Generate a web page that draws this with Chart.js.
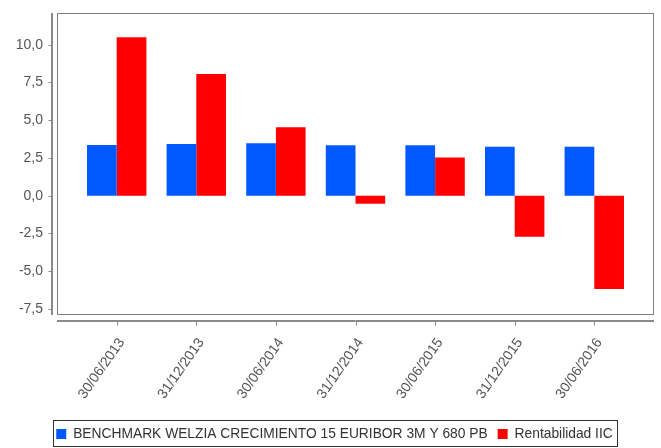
<!DOCTYPE html>
<html><head><meta charset="utf-8">
<script src="https://cdn.jsdelivr.net/npm/chart.js@4/dist/chart.umd.min.js"></script>
<style>html,body{margin:0;padding:0;background:#fff}#w{width:661px;height:448px}</style>
</head><body><div id="w"><canvas id="c" width="661" height="448"></canvas></div>
<script>
const categories = ['30/06/2013','31/12/2013','30/06/2014','31/12/2014','30/06/2015','31/12/2015','30/06/2016'];
const benchmarkValues = [3.36, 3.42, 3.48, 3.35, 3.35, 3.25, 3.25];
const rentabilidadValues = [10.49, 8.06, 4.53, -0.53, 2.53, -2.72, -6.18];
const seriesNames = ['BENCHMARK WELZIA CRECIMIENTO 15 EURIBOR 3M Y 680 PB', 'Rentabilidad IIC'];
const yTickValues = [-7.5, -5, -2.5, 0, 2.5, 5, 7.5, 10];

const FONT = "'Liberation Sans', Arial, sans-serif";

const framePlugin = {
  id: 'frame',
  afterDraw(chart) {
    const {ctx, chartArea: a, scales: {x, y}} = chart;
    ctx.save();
    ctx.lineWidth = 1;
    ctx.strokeStyle = '#808080';
    ctx.strokeRect(Math.round(a.left) + 0.5, Math.round(a.top) + 0.5,
      Math.round(a.right - a.left) - 1, Math.round(a.bottom - a.top) - 1);
    ctx.strokeStyle = '#8a8a8a';
    ctx.beginPath();
    const ax = Math.round(a.left) - 5 + 0.5;
    ctx.moveTo(ax, a.top); ctx.lineTo(ax, a.bottom);
    ctx.moveTo(ax - 1, a.top); ctx.lineTo(ax - 1, a.bottom);
    y.ticks.forEach(t => {
      const p = Math.round(y.getPixelForValue(t.value)) + 0.5;
      ctx.moveTo(ax - 4, p); ctx.lineTo(ax, p);
    });
    const ay = Math.round(a.bottom) + 6 + 0.5;
    ctx.moveTo(a.left, ay); ctx.lineTo(a.right, ay);
    ctx.moveTo(a.left, ay - 1); ctx.lineTo(a.right, ay - 1);
    x.ticks.forEach(t => {
      const p = Math.round(x.getPixelForValue(t.value)) + 0.5;
      ctx.moveTo(p, ay); ctx.lineTo(p, ay + 4);
    });
    ctx.stroke();
    const hb = chart.legend.legendHitBoxes;
    if (hb && hb.length) {
      const first = hb[0], last = hb[hb.length - 1];
      const l = Math.round(first.left - 3.5) + 0.5;
      const r = Math.round(last.left + last.width + 4.5) + 0.5;
      const t = Math.round(first.top - 7) + 0.5;
      const b = Math.round(first.top + 19) + 0.5;
      ctx.strokeStyle = '#333';
      ctx.strokeRect(l, t, r - l, b - t);
    }
    ctx.restore();
  }
};

new Chart(document.getElementById('c'), {
  type: 'bar',
  data: {
    datasets: [
      { label: seriesNames[0], data: categories.map((_, i) => ({x: i, y: benchmarkValues[i]})),
        backgroundColor: '#0058ff', borderWidth: 0 },
      { label: seriesNames[1], data: categories.map((_, i) => ({x: i, y: rentabilidadValues[i]})),
        backgroundColor: '#ff0000', borderWidth: 0 }
    ]
  },
  options: {
    responsive: false,
    devicePixelRatio: 1,
    animation: false,
    datasets: { bar: { categoryPercentage: 0.746, barPercentage: 1.0 } },
    layout: { padding: { left: 15, right: 7, top: 13, bottom: -3 } },
    scales: {
      x: {
        type: 'linear', min: -0.75, max: 6.75, offset: false,
        grid: { display: false, drawTicks: false },
        border: { display: false },
        afterBuildTicks: s => { s.ticks = categories.map((_, i) => ({ value: i })); },
        afterFit: s => { s.height = 102.2; s.paddingLeft = 0; s.paddingRight = 0; },
        ticks: {
          autoSkip: false, minRotation: 55, maxRotation: 55, padding: 20, labelOffset: 5,
          color: '#555', font: { family: FONT, size: 14 },
          callback: v => categories[v]
        }
      },
      y: {
        type: 'linear', min: -7.9, max: 12.1,
        grid: { display: false, drawTicks: false },
        border: { display: false },
        afterBuildTicks: s => { s.ticks = yTickValues.map(v => ({ value: v })); },
        afterFit: s => { s.width = 42; s.paddingTop = 0; s.paddingBottom = 0; },
        ticks: {
          padding: 14, color: '#555', font: { family: FONT, size: 14 },
          callback: v => v.toFixed(1).replace('.', ',')
        }
      }
    },
    plugins: {
      legend: {
        position: 'bottom',
        labels: { boxWidth: 10, boxHeight: 10, padding: 10, color: '#333', font: { family: FONT, size: 13.8 } }
      },
      tooltip: { enabled: false }
    }
  },
  plugins: [framePlugin]
});
</script>
</body></html>
